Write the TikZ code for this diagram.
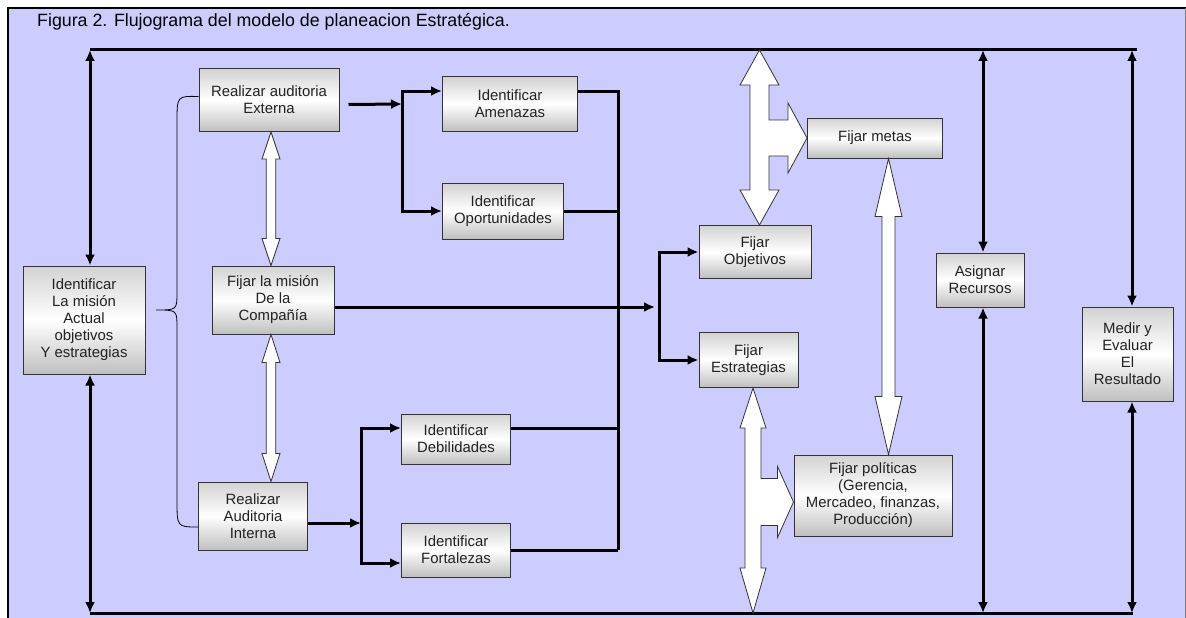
\documentclass[tikz,border=0pt]{standalone}
\usepackage{fontspec}
\setmainfont{Liberation Sans}
\usetikzlibrary{arrows.meta,calc}

\definecolor{lavbg}{HTML}{CCCCFF}
\definecolor{txtgray}{HTML}{222222}
\definecolor{edgegray}{HTML}{333333}

% white double block arrow between two points on one vertical
\newcommand{\vdarrow}[5]{%
  \draw[blockarrow] let \p1=(#1), \p2=(#2) in
    (\x1,\y1) -- (\x1+#4,\y1-#5) -- (\x1+#3,\y1-#5) -- (\x1+#3,\y2+#5) -- (\x1+#4,\y2+#5)
    -- (\x1,\y2) -- (\x1-#4,\y2+#5) -- (\x1-#3,\y2+#5) -- (\x1-#3,\y1-#5) -- (\x1-#4,\y1-#5) -- cycle;}

\begin{document}
\begin{tikzpicture}[x=1pt,y=-1pt]
                % Define styles
                \tikzstyle{box} = [rectangle, draw=edgegray, line width=1pt, top color=gray!35, bottom color=gray!50, middle color=white, text=txtgray, align=center, font=\fontsize{14.9}{17}\selectfont, inner sep=0pt]
                \tikzstyle{line} = [draw, line width=3pt, -{Latex[length=11pt,width=10pt]}]
                \tikzstyle{dline} = [draw, line width=3pt, {Latex[length=11pt,width=10pt]}-{Latex[length=11pt,width=10pt]}]
                \tikzstyle{thickline} = [draw, line width=3pt]
                \tikzstyle{blockarrow} = [fill=white, draw=edgegray, line width=0.8pt, line join=miter]

                \useasboundingbox (0,0) rectangle (1186,618);
                \fill[lavbg] (8,8) rectangle (1186,618);
                \draw[line width=2pt] (8,618) -- (8,8) -- (1186,8);
                \draw[gray, line width=1pt] (1185.5,8) -- (1185.5,618);

                % Title
                \node [anchor=base west, inner sep=0pt, font=\fontsize{17.8}{20}\selectfont] (title) at (37,27) {Figura 2. Flujograma del modelo de planeacion Estratégica.};

                % Nodes
                \node [box, minimum width=122pt, minimum height=108pt] (ident) at (84,320) {Identificar\\ La misión\\ Actual\\ objetivos\\ Y estrategias};
                \node [box, minimum width=140pt, minimum height=63pt] (externa) at (269,100) {Realizar auditoria\\ Externa};
                \node [box, minimum width=122pt, minimum height=68pt] (mision) at (273,300) {Fijar la misión\\ De la\\ Compañía};
                \node [box, minimum width=109pt, minimum height=68pt] (interna) at (253,516) {Realizar\\ Auditoria\\ Interna};
                \node [box, minimum width=135pt, minimum height=54pt] (amenazas) at (510,104) {Identificar\\ Amenazas};
                \node [box, minimum width=121pt, minimum height=56pt] (oportun) at (503,211) {Identificar\\ Oportunidades};
                \node [box, minimum width=109pt, minimum height=50pt] (debil) at (456,439) {Identificar\\ Debilidades};
                \node [box, minimum width=109pt, minimum height=54pt] (fortal) at (456,550) {Identificar\\ Fortalezas};
                \node [box, minimum width=112pt, minimum height=53pt] (objet) at (755,252) {Fijar\\ Objetivos};
                \node [box, minimum width=99pt, minimum height=55pt] (estrat) at (748.5,360) {Fijar\\ Estrategias};
                \node [box, minimum width=135pt, minimum height=40pt] (metas) at (875,138) {Fijar metas};
                \node [box, minimum width=158pt, minimum height=81pt] (politic) at (873,495.5) {Fijar políticas\\ (Gerencia,\\ Mercadeo, finanzas,\\ Producción)};
                \node [box, minimum width=88pt, minimum height=54pt] (asignar) at (980,280) {Asignar\\ Recursos};
                \node [box, minimum width=91pt, minimum height=94pt] (medir) at (1127.5,354) {Medir y\\ Evaluar\\ El\\ Resultado};

                % Loop corners and split points
                \coordinate (ltop) at (90,50);
                \coordinate (rtop) at (1137,50);
                \coordinate (lbot) at (90,613);
                \coordinate (rbot) at (1133,613);
                \coordinate (split_ext) at (402,104);
                \coordinate (split_int) at (361,523);
                \coordinate (split_mis) at (659,307);
                \coordinate (collect) at (618,550);

                % Lines
                \path [thickline] (ltop) -- (rtop);
                \path [thickline] (lbot) -- (rbot);
                \path [dline] ([xshift=6pt]ident.north) -- (ltop);
                \path [dline] ([xshift=6pt]ident.south) -- (lbot);
                \path [dline] ([xshift=3pt]asignar.north) -- ([xshift=3pt]asignar.north |- ltop);
                \path [dline] ([xshift=3pt]asignar.south) -- ([xshift=3pt]asignar.south |- lbot);
                \path [dline] ([xshift=4.5pt]medir.north) -- ([xshift=4.5pt]medir.north |- ltop);
                \path [dline] ([xshift=4.5pt]medir.south) -- ([xshift=4.5pt]medir.south |- lbot);

                \path [line] ([xshift=9pt,yshift=-4.5pt]externa.east) -- (split_ext);
                \path [line] (split_ext) |- ([yshift=13pt]amenazas.west);
                \path [line] (split_ext) |- (oportun.west);

                \path [line] ([yshift=-7pt]interna.east) -- (split_int);
                \path [line] (split_int) |- ([yshift=11pt]debil.west);
                \path [line] (split_int) |- ([yshift=-13pt]fortal.west);

                \path [thickline] ([yshift=13pt]amenazas.east) -| (collect);
                \path [thickline] (oportun.east) -- (oportun.east -| collect);
                \path [thickline] ([yshift=11pt]debil.east) -- ([yshift=11pt]debil.east -| collect);
                \path [thickline] (fortal.east) -- (collect);

                \path [line] ([yshift=-7pt]mision.east) -- ([xshift=-4pt]split_mis);
                \path [line] (split_mis) |- (objet.west);
                \path [line] (split_mis) |- (estrat.west);

                % Brace
                \draw [black, line width=0.8pt] ([yshift=3.5pt]externa.west) .. controls (177,96) .. (177,122) -- (177,292) .. controls (177,310) .. (156,310) .. controls (177,310) .. (177,328) -- (177,500) .. controls (177,527) .. ([yshift=-11pt]interna.west);

                % Block arrows
                \vdarrow{[xshift=2pt]externa.south}{[xshift=2pt]externa.south |- mision.north}{4.7pt}{9pt}{27pt}
                \vdarrow{[xshift=-2pt]mision.south}{[xshift=-2pt]mision.south |- interna.north}{4.7pt}{9pt}{28pt}
                \vdarrow{[xshift=13.5pt]metas.south}{[xshift=13.5pt]metas.south |- politic.north}{6.5pt}{13.5pt}{58pt}

                \draw [blockarrow] let \p1=([xshift=4.5pt]objet.north |- ltop), \p2=([xshift=4.5pt]objet.north), \p3=(metas.west) in
                    (\x1,\y1) -- (\x1+19.5pt,\y1-35pt) -- (\x1+9.5pt,\y1-35pt) -- (\x1+9.5pt,\y3+18pt) -- (\x3-19pt,\y3+18pt)
                    -- (\x3-19pt,\y3+35pt) -- (\x3,\y3) -- (\x3-19pt,\y3-35pt) -- (\x3-19pt,\y3-18pt) -- (\x1+9.5pt,\y3-18pt)
                    -- (\x1+9.5pt,\y2+35pt) -- (\x1+19.5pt,\y2+35pt) -- (\x1,\y2) -- (\x1-19.5pt,\y2+35pt) -- (\x1-9.5pt,\y2+35pt)
                    -- (\x1-9.5pt,\y1-35pt) -- (\x1-19.5pt,\y1-35pt) -- cycle;
                \draw [blockarrow] let \p1=([xshift=4.5pt]estrat.south), \p2=([xshift=4.5pt]estrat.south |- lbot), \p3=([yshift=-6.5pt]politic.west) in
                    (\x1,\y1) -- (\x1+13pt,\y1-40pt) -- (\x1+8pt,\y1-40pt) -- (\x1+8pt,\y3+23.5pt) -- (\x3-16pt,\y3+23.5pt)
                    -- (\x3-16pt,\y3+35.5pt) -- (\x3,\y3) -- (\x3-16pt,\y3-35.5pt) -- (\x3-16pt,\y3-23.5pt) -- (\x1+8pt,\y3-23.5pt)
                    -- (\x1+8pt,\y2+45pt) -- (\x1+13pt,\y2+45pt) -- (\x1,\y2) -- (\x1-13pt,\y2+45pt) -- (\x1-8pt,\y2+45pt)
                    -- (\x1-8pt,\y1-40pt) -- (\x1-13pt,\y1-40pt) -- cycle;
            \end{tikzpicture}
\end{document}
